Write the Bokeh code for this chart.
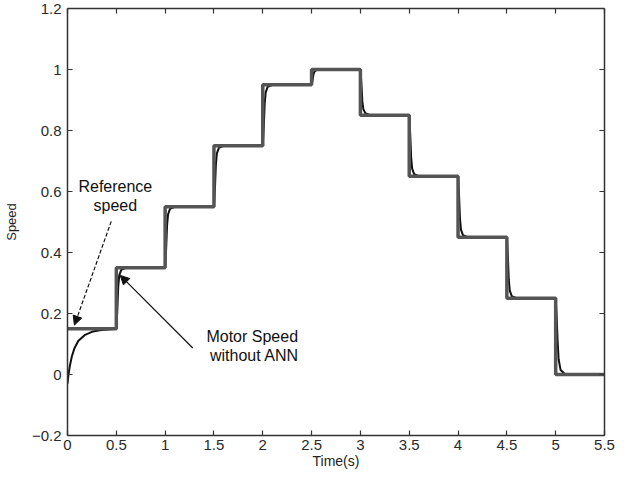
from bokeh.plotting import figure
from bokeh.models import LinearAxis, Range1d, Label, Arrow, NormalHead, FixedTicker
from bokeh.embed import file_html
from bokeh.resources import INLINE

# Reference speed (step levels, held from each time until the next)
ref_t = [0.0, 0.5, 1.0, 1.5, 2.0, 2.5, 3.0, 3.5, 4.0, 4.5, 5.0, 5.5]
ref_v = [0.15, 0.35, 0.55, 0.75, 0.95, 1.0, 0.85, 0.65, 0.45, 0.25, 0.0, 0.0]

# Motor speed without ANN
mot_t = [0.0, 0.01, 0.025, 0.045, 0.07, 0.11, 0.18, 0.25, 0.33, 0.5,
         0.51, 0.52, 0.53, 0.55, 0.6, 1.0,
         1.01, 1.02, 1.03, 1.05, 1.1, 1.5,
         1.51, 1.52, 1.53, 1.55, 1.6, 2.0,
         2.01, 2.02, 2.03, 2.05, 2.1, 2.5,
         2.51, 2.52, 2.53, 2.55, 3.0,
         3.01, 3.02, 3.03, 3.05, 3.1, 3.5,
         3.51, 3.52, 3.53, 3.55, 3.6, 4.0,
         4.01, 4.02, 4.03, 4.05, 4.1, 4.5,
         4.51, 4.52, 4.53, 4.55, 4.6, 5.0,
         5.01, 5.02, 5.03, 5.05, 5.1, 5.5]
mot_v = [-0.03, 0.0, 0.03, 0.06, 0.085, 0.11, 0.13, 0.14, 0.145, 0.15,
         0.21, 0.29, 0.325, 0.343, 0.35, 0.35,
         0.41, 0.49, 0.525, 0.543, 0.55, 0.55,
         0.61, 0.69, 0.725, 0.743, 0.75, 0.75,
         0.81, 0.89, 0.925, 0.943, 0.95, 0.95,
         0.965, 0.985, 0.994, 0.998, 1.0,
         0.955, 0.895, 0.87, 0.857, 0.85, 0.85,
         0.79, 0.71, 0.675, 0.657, 0.65, 0.65,
         0.59, 0.51, 0.475, 0.457, 0.45, 0.45,
         0.39, 0.31, 0.275, 0.257, 0.25, 0.25,
         0.19, 0.11, 0.05, 0.015, 0.0, 0.0]

x_ticks = [0, 0.5, 1, 1.5, 2, 2.5, 3, 3.5, 4, 4.5, 5, 5.5]
y_ticks = [-0.2, 0, 0.2, 0.4, 0.6, 0.8, 1.0, 1.2]

FONT = "Liberation Sans"

p = figure(width=620, height=471, output_backend="svg", toolbar_location=None,
           x_range=Range1d(0, 5.5), y_range=Range1d(-0.2, 1.2),
           min_border_left=64, min_border_top=8, min_border_right=16, min_border_bottom=36)
p.background_fill_color = "white"
p.border_fill_color = "white"
p.outline_line_color = None
p.grid.visible = False

p.xaxis.axis_label = "Time(s)"
p.yaxis.axis_label = "Speed"

def style_axis(ax):
    ax.axis_line_color = "#333333"
    ax.axis_line_width = 1.5
    ax.major_tick_in = 5
    ax.major_tick_out = 0
    ax.minor_tick_line_color = None
    ax.major_tick_line_color = "#333333"
    ax.major_tick_line_width = 1.2
    ax.major_label_text_font = FONT
    ax.major_label_text_font_size = "15px"
    ax.major_label_text_color = "#2a2a2a"
    ax.axis_label_text_font = FONT
    ax.axis_label_text_font_style = "normal"
    ax.axis_label_text_color = "#222222"

for ax in p.xaxis:
    ax.ticker = FixedTicker(ticks=x_ticks)
    style_axis(ax)
    ax.major_label_standoff = 4
    ax.axis_label_standoff = 0
    ax.axis_label_text_font_size = "14px"
for ax in p.yaxis:
    ax.ticker = FixedTicker(ticks=y_ticks)
    style_axis(ax)
    ax.major_label_standoff = 6
    ax.axis_label_standoff = 10
    ax.axis_label_text_font_size = "13px"

top = LinearAxis(ticker=FixedTicker(ticks=x_ticks))
style_axis(top)
top.major_label_overrides = {t: "" for t in x_ticks}
top.major_label_standoff = 0
top.major_label_text_font_size = "1px"
p.add_layout(top, "above")
right = LinearAxis(ticker=FixedTicker(ticks=y_ticks))
style_axis(right)
right.major_label_overrides = {t: "" for t in y_ticks}
right.major_label_standoff = 0
right.major_label_text_font_size = "1px"
p.add_layout(right, "right")

p.line(mot_t, mot_v, line_color="#111111", line_width=2.0)
p.step(ref_t, ref_v, mode="after", line_color="#555555", line_width=3.5)

# Annotations
p.add_layout(Label(x=0.49, y=0.616, text="Reference", text_align="center", text_baseline="middle",
                   text_font=FONT, text_font_size="16px", text_color="#111111"))
p.add_layout(Label(x=0.49, y=0.554, text="speed", text_align="center", text_baseline="middle",
                   text_font=FONT, text_font_size="16px", text_color="#111111"))
p.add_layout(Arrow(x_start=0.448, y_start=0.502, x_end=0.071, y_end=0.162,
                   line_color="#111111", line_width=1.2, line_dash="4 2",
                   end=NormalHead(size=9, fill_color="#111111", line_color="#111111")))

p.add_layout(Label(x=1.915, y=0.126, text="Motor  Speed", text_align="center", text_baseline="middle",
                   text_font=FONT, text_font_size="16px", text_color="#111111"))
p.add_layout(Label(x=1.915, y=0.061, text="without ANN", text_align="center", text_baseline="middle",
                   text_font=FONT, text_font_size="16px", text_color="#111111"))
p.add_layout(Arrow(x_start=1.283, y_start=0.087, x_end=0.54, y_end=0.325,
                   line_color="#111111", line_width=1.2,
                   end=NormalHead(size=9, fill_color="#111111", line_color="#111111")))

open("out.html", "w").write(file_html(p, INLINE))
